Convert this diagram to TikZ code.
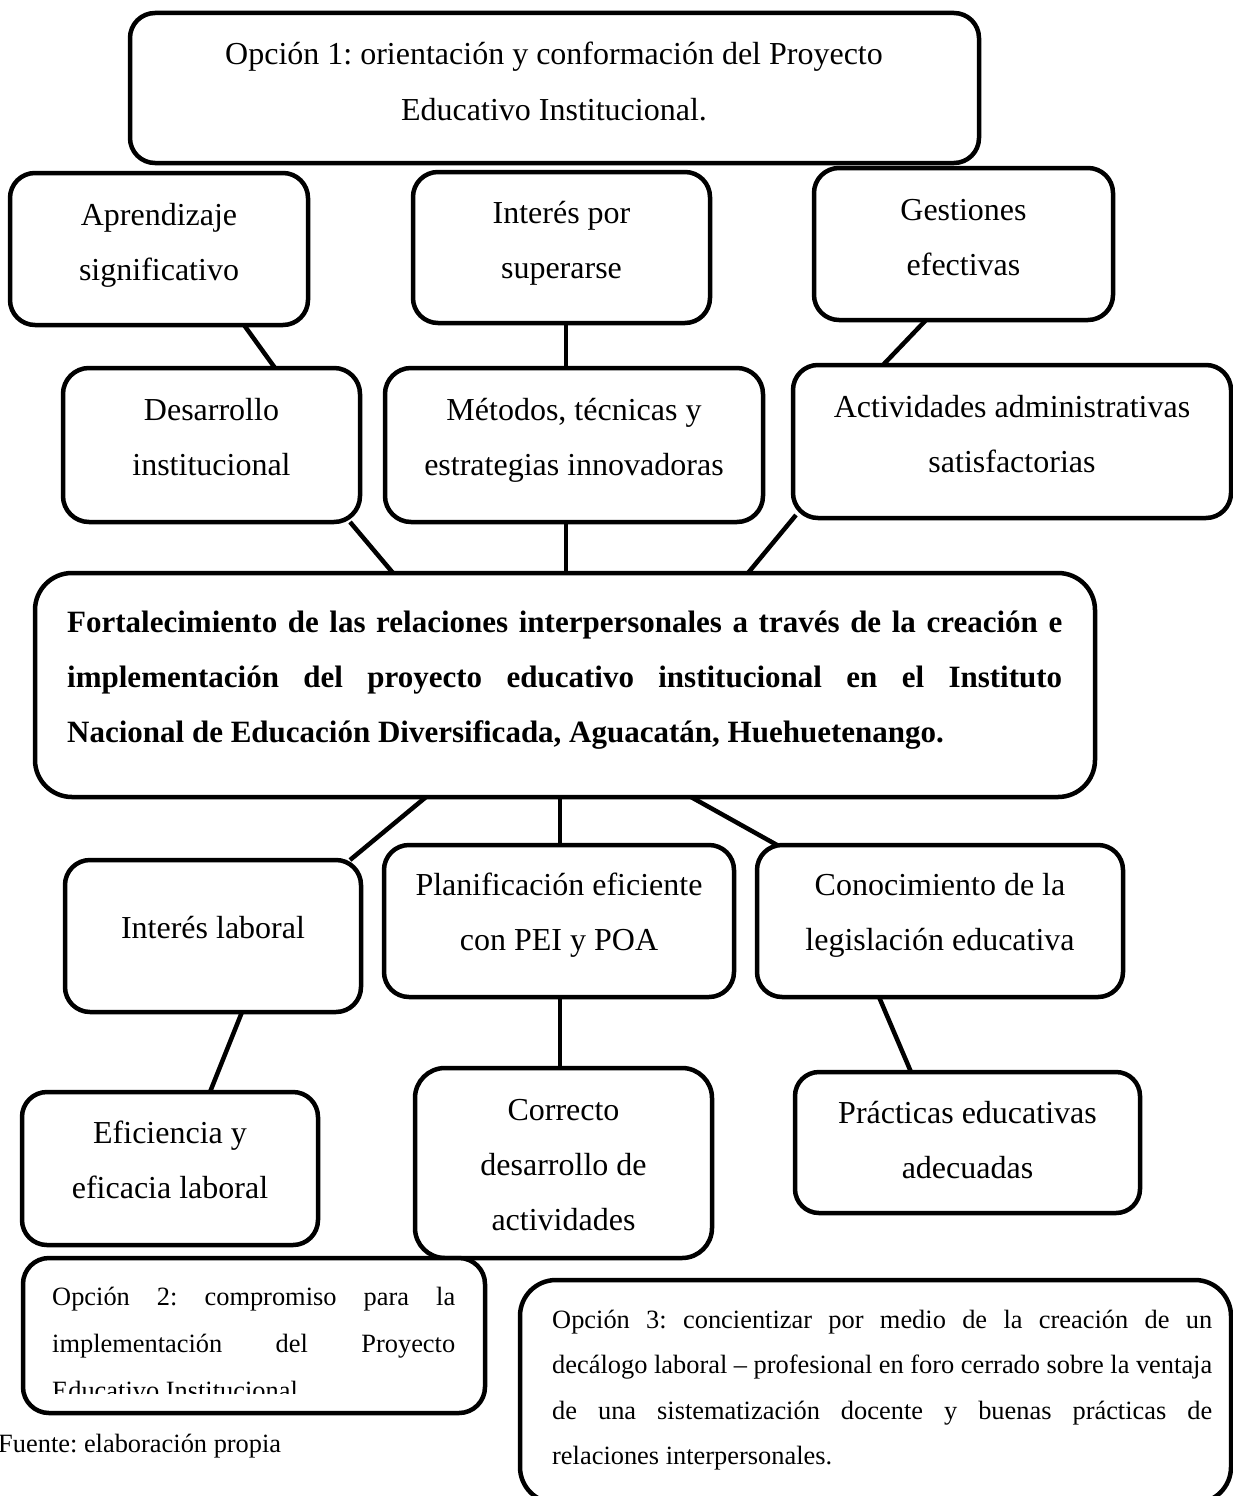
\documentclass[tikz,border=0pt]{standalone}
\usepackage{fontspec}
\setmainfont{Liberation Serif}
\usetikzlibrary{calc}
\frenchspacing

\newcommand{\ctrlines}[1]{\vtop{\halign{\hfil##\hfil\cr#1\crcr}}}
\newcommand{\leftlines}[1]{\vtop{\halign{##\hfil\cr#1\crcr}}}

\tikzset{
  box/.style={draw=black, line width=4.5pt, inner sep=0pt, outer sep=0pt,
    anchor=north west, fill=white},
  conn/.style={draw=black, line width=4.5pt},
  txt/.style={inner sep=0pt, anchor=base, font=\fontsize{32}{55}\selectfont},
  boldtxt/.style={inner sep=0pt, anchor=base west, font=\fontsize{31}{55}\selectfont\bfseries},
  smalltxt/.style={inner sep=0pt, anchor=base west, font=\fontsize{26.4}{#1}\selectfont},
}

% name, x1, y1, x2, y2, radius
\newcommand{\boxnode}[6]{%
  \node[box, rounded corners=#6pt, minimum width={(#4-#2)*1pt},
    minimum height={(#5-#3)*1pt}] (#1) at (#2,#3) {};}

\begin{document}
\begin{tikzpicture}[x=1pt, y=-1pt]
\useasboundingbox (0,0) rectangle (1232,1496);
\fill[white] (0,0) rectangle (1232,1496);

% ---------- boxes ----------
\boxnode{op1}{130}{13}{979}{163}{25}
\boxnode{apr}{10}{173}{308}{325}{25}
\boxnode{int}{413}{172}{710}{323}{25}
\boxnode{ges}{814}{168}{1113}{320}{25}
\boxnode{des}{63}{368}{360}{522}{26}
\boxnode{met}{385}{368}{763}{522}{26}
\boxnode{act}{793}{365}{1231}{518}{25}
\boxnode{main}{35}{573}{1095}{797}{37}
\boxnode{il}{65}{860}{361}{1012}{25}
\boxnode{pl}{384}{845}{734}{997}{25}
\boxnode{con}{757}{845}{1123}{997}{25}
\boxnode{ef}{22}{1092}{318}{1245}{25}
\boxnode{cor}{415}{1068}{712}{1258}{30}
\boxnode{pr}{795}{1072}{1140}{1213}{24}
\boxnode{op2}{23}{1258}{485}{1413}{26}
\boxnode{op3}{520}{1280}{1231}{1503}{36}

% ---------- connectors ----------
\draw[conn] ([xshift=234pt]apr.south west) -- ([xshift=212pt]des.north west);
\draw[conn] ([xshift=153pt]int.south west) -- ([xshift=181pt]met.north west);
\draw[conn] ([xshift=112pt]ges.south west) -- ([xshift=90pt]act.north west);
\draw[conn] ([xshift=287pt]des.south west) -- ([xshift=358pt]main.north west);
\draw[conn] ([xshift=181pt]met.south west) -- ([xshift=531pt]main.north west);
\draw[conn] ([xshift=3pt,yshift=3pt]act.south west) -- ([xshift=713pt]main.north west);
\draw[conn] ([xshift=391pt]main.south west) -- ([xshift=285pt]il.north west);
\draw[conn] ([xshift=525pt]main.south west) -- ([xshift=176pt]pl.north west);
\draw[conn] ([xshift=656pt]main.south west) -- ([xshift=20pt]con.north west);
\draw[conn] ([xshift=177pt]il.south west) -- ([xshift=188pt]ef.north west);
\draw[conn] ([xshift=176pt]pl.south west) -- ([xshift=145pt]cor.north west);
\draw[conn] ([xshift=122pt]con.south west) -- ([xshift=116pt]pr.north west);

% ---------- texts ----------
\node[txt] (op1-t) at (554,65) {\ctrlines{Opción 1: orientación y conformación del Proyecto\cr Educativo Institucional.}};
\node[txt] (apr-t) at (159,225) {\ctrlines{Aprendizaje\cr significativo}};
\node[txt] (int-t) at (561.5,223) {\ctrlines{Interés por\cr superarse}};
\node[txt] (ges-t) at (963.5,220) {\ctrlines{Gestiones\cr efectivas}};
\node[txt] (des-t) at (211.5,420) {\ctrlines{Desarrollo\cr institucional}};
\node[txt] (met-t) at (574,420) {\ctrlines{Métodos, técnicas y\cr estrategias innovadoras}};
\node[txt] (act-t) at (1012,417) {\ctrlines{Actividades administrativas\cr satisfactorias}};

\node[boldtxt] (main-t) at (67,632) {\leftlines{%
  \makebox[995pt][s]{Fortalecimiento de las relaciones interpersonales a través de la creación e}\cr
  \makebox[995pt][s]{implementación del proyecto educativo institucional en el Instituto}\cr
  Nacional de Educación Diversificada, Aguacatán, Huehuetenango.}};

\node[txt] (il-t) at (213,938) {Interés laboral};
\node[txt] (pl-t) at (559,895) {\ctrlines{Planificación eficiente\cr con PEI y POA}};
\node[txt] (con-t) at (940,895) {\ctrlines{Conocimiento de la\cr legislación educativa}};
\node[txt] (ef-t) at (170,1143) {\ctrlines{Eficiencia y\cr eficacia laboral}};
\node[txt] (cor-t) at (563.5,1120) {\ctrlines{Correcto\cr desarrollo de\cr actividades}};
\node[txt] (pr-t) at (967.5,1123) {\ctrlines{Prácticas educativas\cr adecuadas}};

\begin{scope}
  \clip (23,1258) rectangle (485,1393);
  \node[smalltxt=47] (op2-t) at (52,1305) {\leftlines{%
    \makebox[403pt][s]{Opción 2: compromiso para la}\cr
    \makebox[403pt][s]{implementación del Proyecto}\cr
    Educativo Institucional}};
\end{scope}

\node[smalltxt=45.5] (op3-t) at (552,1328) {\leftlines{%
  \makebox[660pt][s]{Opción 3: concientizar por medio de la creación de un}\cr
  \makebox[660pt][s]{decálogo laboral – profesional en foro cerrado sobre la ventaja}\cr
  \makebox[660pt][s]{de una sistematización docente y buenas prácticas de}\cr
  relaciones interpersonales.}};

\node[smalltxt=30] (src) at (-2,1452) {Fuente: elaboración propia};
\end{tikzpicture}
\end{document}
